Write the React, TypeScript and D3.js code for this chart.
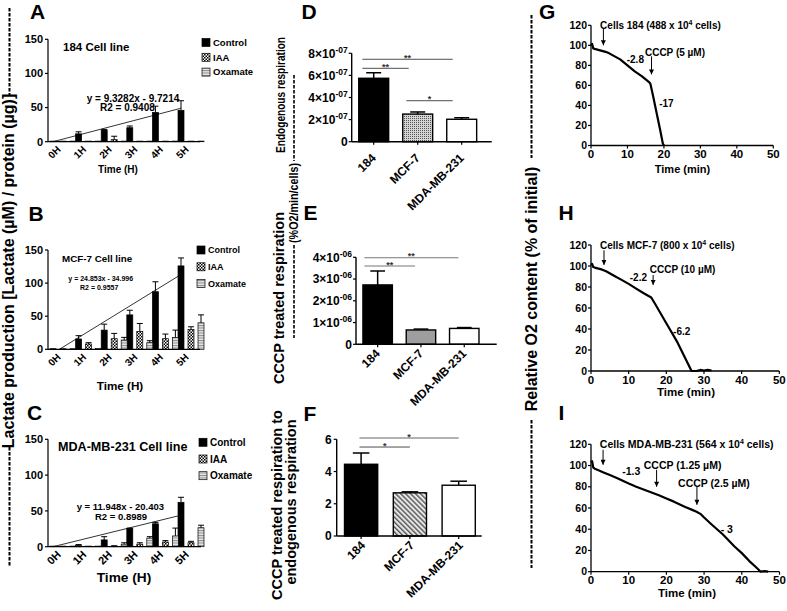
import * as d3 from 'd3';

const FONT = "'Liberation Sans', Arial, Helvetica, sans-serif";

// ---------- A-C: lactate production, grouped bars ----------
const hours = ['0H', '1H', '2H', '3H', '4H', '5H'];
const treatments = ['Control', 'IAA', 'Oxamate'];
const lactateTicks = [0, 50, 100, 150];

const ctl184 = [0, 11.5, 17, 20.5, 43, 46];
const ctl184Err = [0, 3, 1, 2.5, 9, 14];
const iaa184 = [0, 0, 3, 0, 0, 0];
const iaa184Err = [0, 0, 5, 0, 0, 0];
const oxa184 = [0, 0, 0, 0, 0, 0];
const oxa184Err = [0, 0, 0, 0, 0, 0];
const trend184 = [[0, 0], [5, 49]];
const eq184 = ['y = 9.3282x - 9.7214', 'R2 = 0.9408'];

const ctlMcf = [0, 15.6, 29, 52, 87, 126];
const ctlMcfErr = [0, 5, 9, 7, 15, 12];
const iaaMcf = [0, 8, 16, 27, 16, 30];
const iaaMcfErr = [0, 2, 8, 12, 7, 4];
const oxaMcf = [0, 1, 14, 10, 18, 40];
const oxaMcfErr = [0, 0, 4, 3, 11, 12];
const trendMcf = [[0.25, 0], [5, 113]];
const eqMcf = ['y = 24.853x - 34.996', 'R2 = 0.9557'];

const ctlMda = [0, 1.5, 9.5, 25.5, 32, 62];
const ctlMdaErr = [0, 1.5, 4.5, 0.5, 2, 7];
const iaaMda = [0, 0, 0.8, 3.5, 6.5, 5.5];
const iaaMdaErr = [0, 0, 0.5, 2, 2, 2];
const oxaMda = [0, 0, 3.5, 12, 15, 26.5];
const oxaMdaErr = [0, 0, 2, 2, 11, 3.5];
const trendMda = [[0, 0], [5, 44]];
const eqMda = ['y = 11.948x - 20.403', 'R2 = 0.8989'];

// ---------- D-F: respiration bars ----------
const cellLines = ['184', 'MCF-7', 'MDA-MB-231'];
const endoResp = [5.74e-7, 2.5e-7, 2.03e-7];
const endoRespErr = [0.5e-7, 0.19e-7, 0.14e-7];
const endoTicks = [0, 2e-7, 4e-7, 6e-7, 8e-7];
const endoSig = [
  { from: '184', to: 'MDA-MB-231', v: 7.46e-7, label: '**' },
  { from: '184', to: 'MCF-7', v: 6.64e-7, label: '**' },
  { from: 'MCF-7', to: 'MDA-MB-231', v: 3.71e-7, label: '*' },
];
const cccpResp = [2.73e-6, 0.66e-6, 0.73e-6];
const cccpRespErr = [0.64e-6, 0.04e-6, 0.04e-6];
const cccpTicks = [0, 1e-6, 2e-6, 3e-6, 4e-6];
const cccpSig = [
  { from: '184', to: 'MDA-MB-231', v: 3.98e-6, label: '**' },
  { from: '184', to: 'MCF-7', v: 3.6e-6, label: '**' },
];
const ratioResp = [4.45, 2.68, 3.15];
const ratioRespErr = [0.7, 0.06, 0.25];
const ratioTicks = [0, 2, 4, 6];
const ratioSig = [
  { from: '184', to: 'MDA-MB-231', v: 6.08, label: '*' },
  { from: '184', to: 'MCF-7', v: 5.52, label: '*' },
];

// ---------- G-I: oxygen traces [time (min), % of initial] ----------
const timeTicks = [0, 10, 20, 30, 40, 50];
const o2Ticks = [0, 20, 40, 60, 80, 100, 120];
const trace184 = [[0, 100], [0.3, 101.5], [0.6, 97], [1, 96.5], [2, 95.5], [3, 94.5], [4, 93.5], [5, 92], [6, 90], [7, 88], [8, 86], [9, 83], [10, 80], [11, 77], [12, 74], [13, 71.5], [14, 69], [15, 66], [16, 63], [16.3, 61.5], [17, 50], [18, 32.5], [19, 15], [19.7, 2], [20, 0]];
const traceMcf = [[0, 101], [0.3, 102], [0.6, 99], [1, 98.5], [2, 97.5], [3, 96.5], [4, 95], [6, 91], [8, 87], [10, 83], [12, 78.5], [14, 74], [16, 70], [17, 64], [20, 45.5], [23, 27], [26.7, 0], [28, 0], [29, 1], [30, 0.5], [31, 1], [32, 0.5]];
const traceMda = [[0, 103], [0.3, 104], [0.6, 98], [1, 97], [2, 95.5], [3, 94], [5, 91], [7, 88], [10, 83], [12, 80], [15, 76], [18, 72], [20, 69], [22, 66], [25, 61], [27, 58], [28, 56.5], [29, 54.5], [30, 51], [32, 44.5], [35, 35], [38, 24], [40, 17.5], [42, 10], [44, 3.5], [45, 0], [46, 0.5], [47, 0]];

const notes184 = [
  { t: 2.5, v: 116.7, text: 'Cells 184 (488 x 10', sup: '4', after: ' cells)' },
  { t: 14.8, v: 89.7, text: 'CCCP (5 µM)' },
  { t: 9.8, v: 82.7, text: '-2.8' },
  { t: 18.7, v: 38.7, text: '-17' },
];
const arrows184 = [{ t: 3.4, from: 117, to: 100 }, { t: 16.6, from: 89, to: 71 }];
const notesMcf = [
  { t: 2.4, v: 116.2, text: 'Cells MCF-7 (800 x 10', sup: '4', after: ' cells)' },
  { t: 15.6, v: 93.3, text: 'CCCP (10 µM)' },
  { t: 10.3, v: 85.7, text: '-2.2' },
  { t: 21.8, v: 34.3, text: '-6.2' },
];
const arrowsMcf = [{ t: 3.45, from: 115, to: 101 }, { t: 16.5, from: 91.4, to: 82 }];
const notesMda = [
  { t: 2.35, v: 116.7, text: 'Cells MDA-MB-231 (564 x 10', sup: '4', after: ' cells)' },
  { t: 8.3, v: 91.2, text: '-1.3' },
  { t: 14, v: 96.4, text: 'CCCP (1.25 µM)' },
  { t: 23.1, v: 80, text: 'CCCP (2.5 µM)' },
  { t: 34.4, v: 36.5, text: '- 3' },
];
const arrowsMda = [{ t: 3.2, from: 114.8, to: 100.7 }, { t: 17.4, from: 96, to: 80 }, { t: 28.1, from: 80, to: 63 }];

const groupFills = ['#000', 'url(#checker)', 'url(#hstripe)'];

function Letter({ x, y, c }: any) {
  return <text x={x} y={y} fontSize={21} fontWeight="bold">{c}</text>;
}

function GroupPanel({ lay, series, errs, trend, eq, title }: any) {
  const step = 25.6;
  const x = d3.scaleBand<string>().domain(hours).range([lay.x0, lay.x0 + step * hours.length]);
  const sub = d3.scaleBand<string>().domain(treatments).range([2, 28]).paddingInner(0.4);
  const y = d3.scaleLinear().domain([0, 150]).range([lay.y0, lay.yTop]);
  const bw = sub.bandwidth();
  const ctlMid = (sub('Control') as number) + bw / 2;
  const tx = d3.scaleLinear().domain([0, hours.length - 1])
    .range([(x(hours[0]) as number) + ctlMid, (x(hours[hours.length - 1]) as number) + ctlMid]);
  const trendPath = d3.line<number[]>().x((d) => tx(d[0])).y((d) => y(d[1]))(trend) || '';
  return (
    <g>
      <Letter x={lay.lx} y={lay.ly} c={lay.letter} />
      {treatments.map((t, ti) =>
        series[ti].map((v: number, i: number) => {
          const bx = (x(hours[i]) as number) + (sub(t) as number);
          const top = Math.min(y(v), lay.y0 - 0.6);
          const e = errs[ti][i];
          return (
            <g key={t + i}>
              <rect x={bx} y={top} width={bw} height={lay.y0 - top} fill={groupFills[ti]} stroke="#000" strokeWidth={0.7} />
              {e > 0 && (
                <g stroke="#000" strokeWidth={1}>
                  <line x1={bx + bw / 2} x2={bx + bw / 2} y1={y(v)} y2={y(v + e)} />
                  <line x1={bx} x2={bx + bw} y1={y(v + e)} y2={y(v + e)} />
                </g>
              )}
            </g>
          );
        })
      )}
      <path d={trendPath} fill="none" stroke="#000" strokeWidth={0.8} />
      {/* axes */}
      <line x1={lay.x0} x2={lay.x0} y1={lay.y0} y2={lay.yTop} stroke="#000" strokeWidth={1.2} />
      <line x1={lay.x0} x2={lay.xEnd} y1={lay.y0} y2={lay.y0} stroke="#000" strokeWidth={1.2} />
      {lactateTicks.map((t) => (
        <g key={t}>
          <line x1={lay.x0 - 3} x2={lay.x0} y1={y(t)} y2={y(t)} stroke="#000" strokeWidth={1.2} />
          <text x={lay.x0 - 5} y={y(t)} dy="0.35em" textAnchor="end" fontSize={11} fontWeight="bold">{t}</text>
        </g>
      ))}
      {hours.map((h) => {
        const cx = (x(h) as number) + step / 2 - 2;
        return (
          <text key={h} transform={`translate(${cx},${lay.y0 + 6}) rotate(-45)`} dy="0.35em" textAnchor="end" fontSize={lay.xtick} fontWeight="bold">{h}</text>
        );
      })}
      <text x={lay.time.x} y={lay.time.y} textAnchor="middle" fontSize={lay.time.size} fontWeight="bold">Time (H)</text>
      <text x={lay.title.x} y={lay.title.y} fontSize={lay.title.size} fontWeight="bold">{title}</text>
      <text x={lay.eq.x} y={lay.eq.y} fontSize={lay.eq.size} fontWeight="bold">{eq[0]}</text>
      <text x={lay.eq.x2} y={lay.eq.y2} fontSize={lay.eq.size} fontWeight="bold">{eq[1]}</text>
      {treatments.map((t, ti) => (
        <g key={t}>
          <rect x={lay.legend.x} y={lay.legend.y + ti * lay.legend.dy - 4} width={8} height={8} fill={groupFills[ti]} stroke="#000" strokeWidth={0.7} />
          <text x={lay.legend.x + 11} y={lay.legend.y + ti * lay.legend.dy} dy="0.35em" fontSize={lay.legend.size} fontWeight="bold">{t}</text>
        </g>
      ))}
    </g>
  );
}

function SciTick({ x, y, v, exp }: any) {
  if (v === 0) return <text x={x} y={y} dy="0.35em" textAnchor="end" fontSize={12} fontWeight="bold">0</text>;
  const m = Math.round(v / Math.pow(10, exp));
  return (
    <text x={x} y={y} dy="0.35em" textAnchor="end" fontSize={12} fontWeight="bold">
      {m}×10<tspan dy="-5" fontSize={8.5}>{`-0${-exp}`}</tspan>
    </text>
  );
}

function CellPanel({ lay, values, errs, ticks, sig, fills, exp }: any) {
  const x = d3.scaleBand<string>().domain(cellLines)
    .range([lay.x0, lay.x0 + 3 * lay.step]).paddingInner(0.32).paddingOuter(0.16);
  const y = d3.scaleLinear().domain([0, ticks[ticks.length - 1]]).range([lay.y0, lay.yTop]);
  const bw = x.bandwidth();
  return (
    <g>
      <Letter x={lay.lx} y={lay.ly} c={lay.letter} />
      {cellLines.map((c, i) => {
        const bx = x(c) as number;
        const e = errs[i];
        return (
          <g key={c}>
            <g stroke="#000" strokeWidth={1.5}>
              <line x1={bx + bw / 2} x2={bx + bw / 2} y1={y(values[i])} y2={y(values[i] + e)} />
              <line x1={bx + bw / 4} x2={bx + (3 * bw) / 4} y1={y(values[i] + e)} y2={y(values[i] + e)} />
            </g>
            <rect x={bx} y={y(values[i])} width={bw} height={lay.y0 - y(values[i])} fill={fills[i]} stroke="#000" strokeWidth={1.4} />
            <line x1={bx + bw / 2} x2={bx + bw / 2} y1={lay.y0} y2={lay.y0 + 3} stroke="#000" strokeWidth={1.2} />
            <text transform={`translate(${bx + bw / 2 + lay.labDx},${lay.y0 + lay.labDy}) rotate(-45)`} dy="0.35em" textAnchor="end" fontSize={12} fontWeight="bold">{c}</text>
          </g>
        );
      })}
      {sig.map((s: any, i: number) => {
        const x1 = (x(s.from) as number) + lay.fromFrac * bw;
        const x2 = (x(s.to) as number) + lay.toFrac * bw;
        return (
          <g key={i}>
            <line x1={x1} x2={x2} y1={y(s.v)} y2={y(s.v)} stroke={lay.sigColor[i]} strokeWidth={lay.sigWidth[i]} />
            <text x={(x1 + x2) / 2} y={y(s.v) + 1.5} textAnchor="middle" fontSize={9} fontWeight="bold" fill="#333">{s.label}</text>
          </g>
        );
      })}
      <line x1={lay.x0} x2={lay.x0} y1={lay.y0} y2={lay.yTop} stroke="#000" strokeWidth={1.4} />
      <line x1={lay.x0} x2={lay.xEnd} y1={lay.y0} y2={lay.y0} stroke="#000" strokeWidth={1.4} />
      {ticks.map((t: number) => (
        <g key={t}>
          <line x1={lay.x0 - 3} x2={lay.x0} y1={y(t)} y2={y(t)} stroke="#000" strokeWidth={1.2} />
          {exp ? (
            <SciTick x={lay.x0 - 4} y={y(t)} v={t} exp={exp} />
          ) : (
            <text x={lay.x0 - 5} y={y(t)} dy="0.35em" textAnchor="end" fontSize={12} fontWeight="bold">{t}</text>
          )}
        </g>
      ))}
    </g>
  );
}

function TracePanel({ lay, trace, notes, arrows }: any) {
  const x = d3.scaleLinear().domain([0, 50]).range([lay.x0, lay.x1]);
  const y = d3.scaleLinear().domain([0, 120]).range([lay.y0, lay.yTop]);
  const path = d3.line<number[]>().x((d) => x(d[0])).y((d) => y(d[1]))(trace) || '';
  return (
    <g>
      <Letter x={lay.lx} y={lay.ly} c={lay.letter} />
      <path d={path} fill="none" stroke="#000" strokeWidth={2.2} strokeLinejoin="round" />
      <line x1={lay.x0} x2={lay.x0} y1={lay.y0} y2={lay.yTop} stroke="#000" strokeWidth={1.3} />
      <line x1={lay.x0} x2={lay.x1} y1={lay.y0} y2={lay.y0} stroke="#000" strokeWidth={1.3} />
      {o2Ticks.map((t) => (
        <g key={t}>
          <line x1={lay.x0 - 3} x2={lay.x0} y1={y(t)} y2={y(t)} stroke="#000" strokeWidth={1.2} />
          <text x={lay.x0 - 4} y={y(t)} dy="0.35em" textAnchor="end" fontSize={10.5} fontWeight="bold">{t}</text>
        </g>
      ))}
      {timeTicks.map((t) => (
        <g key={t}>
          <line x1={x(t)} x2={x(t)} y1={lay.y0} y2={lay.y0 + 3} stroke="#000" strokeWidth={1.2} />
          <text x={x(t)} y={lay.y0 + 12.5} textAnchor="middle" fontSize={11.5} fontWeight="bold">{t}</text>
        </g>
      ))}
      <text x={lay.time.x} y={lay.time.y} textAnchor="middle" fontSize={lay.time.size} fontWeight="bold">Time (min)</text>
      {arrows.map((a: any, i: number) => (
        <line key={i} x1={x(a.t)} x2={x(a.t)} y1={y(a.from)} y2={y(a.to)} stroke="#000" strokeWidth={1} markerEnd="url(#arrowHead)" />
      ))}
      {notes.map((n: any, i: number) => (
        <text key={i} x={x(n.t)} y={y(n.v)} fontSize={lay.noteSize} fontWeight="bold">
          {n.text}
          {n.sup && <tspan dy="-4" fontSize={7}>{n.sup}</tspan>}
          {n.sup && <tspan dy="4">{n.after}</tspan>}
        </text>
      ))}
    </g>
  );
}

const dash = { stroke: '#000', strokeWidth: 2, strokeDasharray: '3.5 1.5' };

export default function App() {
  return (
    <svg width={787} height={611} viewBox="0 0 787 611" fontFamily={FONT}
      style={{ position: 'absolute', left: 0, top: 0, background: '#fff' }}>
      <defs>
        <pattern id="checker" width="3" height="3" patternUnits="userSpaceOnUse">
          <rect width="3" height="3" fill="#fff" />
          <rect width="1.5" height="1.5" fill="#000" />
          <rect x="1.5" y="1.5" width="1.5" height="1.5" fill="#000" />
        </pattern>
        <pattern id="hstripe" width="3" height="2.5" patternUnits="userSpaceOnUse">
          <rect width="3" height="2.5" fill="#e6e6e6" />
          <rect width="3" height="1" fill="#8c8c8c" />
        </pattern>
        <pattern id="fineGrid" width="2" height="2" patternUnits="userSpaceOnUse">
          <rect width="2" height="2" fill="#d4d4d4" />
          <rect width="1" height="1" fill="#555" />
        </pattern>
        <pattern id="diag" width="3.5" height="3.5" patternUnits="userSpaceOnUse" patternTransform="rotate(-45)">
          <rect width="3.5" height="3.5" fill="#e8e8e8" />
          <rect width="1.4" height="3.5" fill="#555" />
        </pattern>
        <marker id="arrowHead" viewBox="0 0 10 10" refX="10" refY="5" markerWidth="6" markerHeight="5" markerUnits="userSpaceOnUse" orient="auto">
          <path d="M0,0 L10,5 L0,10 z" fill="#000" />
        </marker>
      </defs>

      {/* shared axis titles */}
      <line x1={9.5} x2={9.5} y1={8} y2={95} {...dash} />
      <text transform="translate(14,271) rotate(-90)" textAnchor="middle" fontSize={16} fontWeight="bold">Lactate production [Lactate (µM) / protein (µg)]</text>
      <line x1={9.5} x2={9.5} y1={447} y2={567} {...dash} />

      <text transform="translate(285,95) rotate(-90)" textAnchor="middle" fontSize={12.5} fontWeight="bold" textLength={116} lengthAdjust="spacingAndGlyphs">Endogenous respiration</text>
      <text transform="translate(284,298) rotate(-90)" textAnchor="middle" fontSize={14.5} fontWeight="bold">CCCP treated respiration</text>
      <line x1={294} x2={294} y1={75} y2={161} {...dash} strokeWidth={1.6} />
      <text transform="translate(298,203) rotate(-90)" textAnchor="middle" fontSize={12} fontWeight="bold" textLength={80} lengthAdjust="spacingAndGlyphs">(%O2/min/cells)</text>
      <line x1={294} x2={294} y1={245} y2={338} {...dash} strokeWidth={1.6} />

      <text transform="translate(282,505) rotate(-90)" textAnchor="middle" fontSize={14.5} fontWeight="bold">CCCP treated respiration to</text>
      <text transform="translate(295.5,502) rotate(-90)" textAnchor="middle" fontSize={14.5} fontWeight="bold">endogenous respiration</text>

      <line x1={531.5} x2={531.5} y1={15} y2={158} {...dash} />
      <text transform="translate(536.5,289) rotate(-90)" textAnchor="middle" fontSize={16} fontWeight="bold">Relative O2 content (% of initial)</text>
      <line x1={531.5} x2={531.5} y1={420} y2={568} {...dash} />

      <GroupPanel
        lay={{ letter: 'A', lx: 30, ly: 19, x0: 48, xEnd: 200, y0: 141.7, yTop: 39.3, xtick: 10,
          title: { x: 63, y: 50.5, size: 11.5 }, legend: { x: 202, y: 42.5, dy: 14.8, size: 9.5 },
          eq: { x: 86.7, y: 101.5, x2: 100, y2: 111, size: 10 }, time: { x: 118, y: 173, size: 10 } }}
        series={[ctl184, iaa184, oxa184]} errs={[ctl184Err, iaa184Err, oxa184Err]}
        trend={trend184} eq={eq184} title="184 Cell line" />
      <GroupPanel
        lay={{ letter: 'B', lx: 28.5, ly: 221, x0: 48, xEnd: 200, y0: 349.3, yTop: 250, xtick: 10,
          title: { x: 62, y: 261.7, size: 9.8 }, legend: { x: 197, y: 250, dy: 16.8, size: 9 },
          eq: { x: 68.3, y: 281, x2: 80, y2: 289.5, size: 7 }, time: { x: 120, y: 390, size: 11.7 } }}
        series={[ctlMcf, iaaMcf, oxaMcf]} errs={[ctlMcfErr, iaaMcfErr, oxaMcfErr]}
        trend={trendMcf} eq={eqMcf} title="MCF-7 Cell line" />
      <GroupPanel
        lay={{ letter: 'C', lx: 27, ly: 420, x0: 48, xEnd: 201, y0: 546.7, yTop: 439.3, xtick: 11,
          title: { x: 58, y: 451, size: 12.6 }, legend: { x: 199, y: 442.3, dy: 16.7, size: 10 },
          eq: { x: 76.7, y: 509.7, x2: 95, y2: 520, size: 9.5 }, time: { x: 124, y: 582, size: 13.7 } }}
        series={[ctlMda, iaaMda, oxaMda]} errs={[ctlMdaErr, iaaMdaErr, oxaMdaErr]}
        trend={trendMda} eq={eqMda} title="MDA-MB-231 Cell line" />

      <CellPanel
        lay={{ letter: 'D', lx: 301.5, ly: 19, x0: 351.7, xEnd: 491.7, step: 44, y0: 141.7, yTop: 53.3,
          labDx: 0, labDy: 14, fromFrac: 0.12, toFrac: 0.2, sigColor: ['#222', '#222', '#222'], sigWidth: [0.8, 0.8, 0.8] }}
        values={endoResp} errs={endoRespErr} ticks={endoTicks} sig={endoSig}
        fills={['#000', 'url(#fineGrid)', '#fff']} exp={-7} />
      <CellPanel
        lay={{ letter: 'E', lx: 303.5, ly: 220, x0: 356, xEnd: 496.7, step: 43.3, y0: 344.3, yTop: 257.3,
          labDx: 0, labDy: 7, fromFrac: 0.05, toFrac: 0.3, sigColor: ['#777', '#777'], sigWidth: [1, 1] }}
        values={cccpResp} errs={cccpRespErr} ticks={cccpTicks} sig={cccpSig}
        fills={['#000', '#9e9e9e', '#fff']} exp={-6} />
      <CellPanel
        lay={{ letter: 'F', lx: 303.5, ly: 421, x0: 336.7, xEnd: 481.7, step: 48.8, y0: 536, yTop: 439.3,
          labDx: 2, labDy: 7, fromFrac: 0.45, toFrac: 0.5, sigColor: ['#999', '#222'], sigWidth: [1.6, 0.8] }}
        values={ratioResp} errs={ratioRespErr} ticks={ratioTicks} sig={ratioSig}
        fills={['#000', 'url(#diag)', '#fff']} exp={0} />

      <TracePanel
        lay={{ letter: 'G', lx: 539, ly: 19, x0: 591, x1: 773.3, y0: 145.5, yTop: 25.3, noteSize: 10,
          time: { x: 682.5, y: 172.5, size: 11 } }}
        trace={trace184} notes={notes184} arrows={arrows184} />
      <TracePanel
        lay={{ letter: 'H', lx: 558.5, ly: 220, x0: 591, x1: 779.3, y0: 371, yTop: 245, noteSize: 10,
          time: { x: 686, y: 396, size: 11.5 } }}
        trace={traceMcf} notes={notesMcf} arrows={arrowsMcf} />
      <TracePanel
        lay={{ letter: 'I', lx: 558.5, ly: 420, x0: 591, x1: 779.5, y0: 571.7, yTop: 444.3, noteSize: 10.5,
          time: { x: 687, y: 597, size: 11.5 } }}
        trace={traceMda} notes={notesMda} arrows={arrowsMda} />
    </svg>
  );
}
